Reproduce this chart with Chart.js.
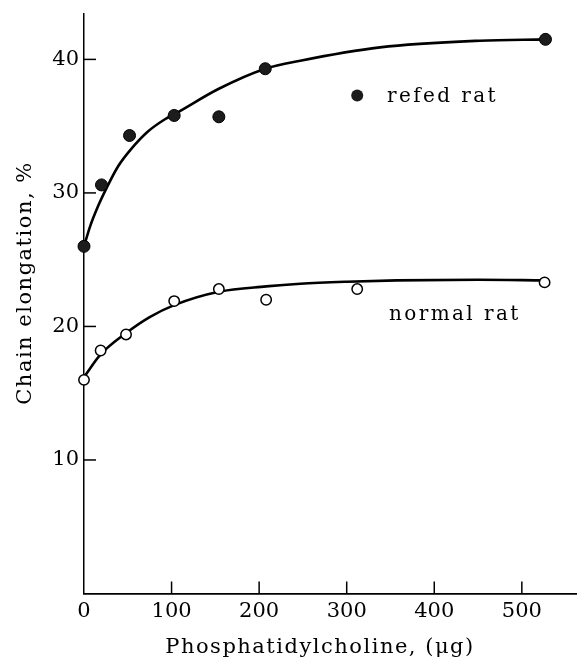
<!DOCTYPE html>
<html>
<head>
<meta charset="utf-8">
<script src="https://cdn.jsdelivr.net/npm/chart.js@4"></script>
<style>
  html, body { margin: 0; background: #fff; overflow: hidden; }
  #wrap { width: 577px; height: 663px; }
</style>
</head>
<body>
<div id="wrap"><canvas id="myChart"></canvas></div>
<script>
// measured points
var refedX = [0, 20, 52, 103, 154, 207, 527];
var refedY = [26.0, 30.6, 34.3, 35.8, 35.7, 39.3, 41.5];
var normalX = [0, 19, 48, 103, 154, 208, 312, 526];
var normalY = [16.0, 18.2, 19.4, 21.9, 22.8, 22.0, 22.8, 23.3];

// fitted curves
var refedCurveX = [0, 7, 16, 26, 39, 54, 73, 92, 106, 154, 207, 247, 338, 452, 527];
var refedCurveY = [26.0, 27.5, 29.0, 30.4, 32.0, 33.3, 34.6, 35.5, 36.0, 37.8, 39.3, 39.9, 40.9, 41.4, 41.5];
var normalCurveX = [0, 19, 48, 75, 103, 154, 208, 247, 300, 357, 450, 526];
var normalCurveY = [16.2, 17.9, 19.5, 20.7, 21.6, 22.6, 23.0, 23.2, 23.35, 23.45, 23.5, 23.45];

// tick labels
var xTicks = [0, 100, 200, 300, 400, 500];
var yTicks = [10, 20, 30, 40];

var xTitle = 'Phosphatidylcholine, (\u03bcg)';
var yTitle = 'Chain elongation, %';
var refedLabel = 'refed rat';
var normalLabel = 'normal rat';

function pts(xs, ys) {
  return xs.map(function (x, i) { return { x: x, y: ys[i] }; });
}

var serif = '"DejaVu Serif", serif';

// titles, legend text and inward tick marks
var extras = {
  id: 'extras',
  afterDraw: function (chart) {
    var ctx = chart.ctx;
    var xs = chart.scales.x, ys = chart.scales.y;
    ctx.save();
    ctx.strokeStyle = '#000';
    ctx.lineWidth = 1.5;
    // inner ticks
    xTicks.forEach(function (v) {
      if (v === 0) return;
      var px = xs.getPixelForValue(v);
      ctx.beginPath();
      ctx.moveTo(px, ys.bottom);
      ctx.lineTo(px, ys.bottom - 12);
      ctx.stroke();
    });
    yTicks.forEach(function (v) {
      var py = ys.getPixelForValue(v);
      ctx.beginPath();
      ctx.moveTo(xs.left, py);
      ctx.lineTo(xs.left + 12, py);
      ctx.stroke();
    });

    ctx.fillStyle = '#000';
    ctx.letterSpacing = '1.5px';
    ctx.font = '21px ' + serif;
    ctx.textAlign = 'center';
    ctx.textBaseline = 'alphabetic';
    ctx.fillText(xTitle, 320, 653);

    ctx.save();
    ctx.translate(31, 283);
    ctx.rotate(-Math.PI / 2);
    ctx.fillText(yTitle, 0, 0);
    ctx.restore();

    // legend
    ctx.letterSpacing = '2.4px';
    ctx.font = '20px ' + serif;
    ctx.textAlign = 'left';
    var mx = xs.getPixelForValue(312), my = ys.getPixelForValue(37.3);
    ctx.fillStyle = '#1c1c1c';
    ctx.beginPath();
    ctx.arc(mx, my, 6, 0, Math.PI * 2);
    ctx.fill();
    ctx.fillStyle = '#000';
    ctx.fillText(refedLabel, 387, 102);
    ctx.fillText(normalLabel, 389, 320);
    ctx.restore();
  }
};

new Chart('myChart', {
  type: 'scatter',
  data: {
    datasets: [
      {
        data: pts(refedX, refedY),
        pointRadius: 6,
        pointBackgroundColor: '#1c1c1c',
        pointBorderColor: '#000',
        pointBorderWidth: 1,
        clip: false,
        order: 0
      },
      {
        data: pts(normalX, normalY),
        pointRadius: 5.2,
        pointBackgroundColor: '#fff',
        pointBorderColor: '#000',
        pointBorderWidth: 1.5,
        clip: false,
        order: 0
      },
      {
        data: pts(refedCurveX, refedCurveY),
        showLine: true,
        pointRadius: 0,
        borderColor: '#000',
        borderWidth: 2.6,
        cubicInterpolationMode: 'monotone',
        clip: false,
        order: 1
      },
      {
        data: pts(normalCurveX, normalCurveY),
        showLine: true,
        pointRadius: 0,
        borderColor: '#000',
        borderWidth: 2.6,
        cubicInterpolationMode: 'monotone',
        clip: false,
        order: 1
      }
    ]
  },
  options: {
    responsive: true,
    maintainAspectRatio: false,
    animation: false,
    layout: { autoPadding: false, padding: { top: 14, right: 0, left: 0, bottom: 0 } },
    plugins: {
      legend: { display: false },
      tooltip: { enabled: false }
    },
    scales: {
      x: {
        type: 'linear',
        min: 0,
        max: 563,
        afterBuildTicks: function (s) { s.ticks = xTicks.map(function (v) { return { value: v }; }); },
        afterFit: function (s) { s.height = 69.5; s.paddingLeft = 0; s.paddingRight = 0; },
        grid: { drawOnChartArea: false, drawTicks: false },
        border: { color: '#000', width: 1.8 },
        ticks: { color: '#000', padding: 5, maxRotation: 0, font: { family: serif, size: 21 } }
      },
      y: {
        type: 'linear',
        min: 0,
        max: 43.4,
        afterBuildTicks: function (s) { s.ticks = yTicks.map(function (v) { return { value: v }; }); },
        afterFit: function (s) { s.width = 84; s.paddingTop = 0; s.paddingBottom = 0; },
        grid: { drawOnChartArea: false, drawTicks: false },
        border: { color: '#000', width: 1.5 },
        ticks: { color: '#000', padding: 5, font: { family: serif, size: 21 } }
      }
    }
  },
  plugins: [extras]
});
</script>
</body>
</html>
